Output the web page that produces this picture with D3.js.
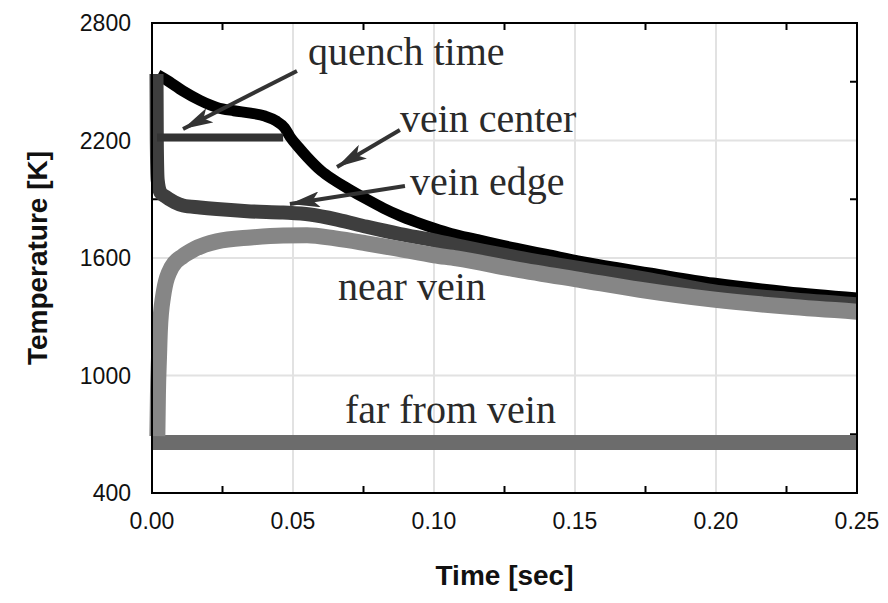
<!DOCTYPE html>
<html><head><meta charset="utf-8">
<script src="https://cdn.jsdelivr.net/npm/d3@7"></script>
<style>
body{margin:0;background:#fff;}
svg{display:block;}
</style></head>
<body>
<script>
// ---- data ----
const xTicks = [0, 0.05, 0.10, 0.15, 0.20, 0.25];
const yTicks = [400, 1000, 1600, 2200, 2800];
const xMinor = [0.025, 0.075, 0.125, 0.175, 0.225];
const yMinor = [700, 1300, 1900, 2500];

const farTime = [0.0, 0.25];
const farTemp = [658, 658];

const nearTime = [0.0019,0.0021,0.0025,0.0028,0.0039,0.007,0.011,0.015,0.023,0.035,0.0465,0.055,0.065,0.076,0.088,0.100,0.108,0.129,0.153,0.173,0.199,0.225,0.25];
const nearTemp = [690,900,1100,1232,1400,1554,1610,1645,1685,1705,1715,1716,1700,1675,1645,1614,1598,1542,1485,1438,1388,1352,1326];

const edgeTime = [0.0016,0.0017,0.0020,0.0030,0.0046,0.008,0.011,0.017,0.023,0.035,0.0465,0.056,0.066,0.076,0.088,0.100,0.108,0.129,0.153,0.177,0.199,0.225,0.25];
const edgeTemp = [2540,2200,2000,1935,1915,1885,1868,1858,1850,1838,1832,1822,1795,1760,1722,1690,1665,1605,1545,1490,1430,1392,1364];

const centerTime = [0.002,0.005,0.011,0.017,0.023,0.029,0.035,0.040,0.044,0.047,0.049,0.052,0.055,0.060,0.064,0.070,0.076,0.082,0.088,0.094,0.100,0.106,0.115,0.129,0.140,0.153,0.165,0.177,0.199,0.225,0.25];
const centerTemp = [2535,2510,2453,2405,2369,2352,2340,2325,2300,2265,2218,2165,2116,2045,2003,1950,1901,1855,1815,1782,1752,1725,1695,1650,1618,1580,1550,1522,1472,1428,1396];

const quenchTime = [0.0018, 0.0465];
const quenchTemp = [2215, 2215];

// annotations: label, text anchor (t,T), arrow from (t,T) to tip (t,T)
const labels = ["quench time","vein center","vein edge","near vein","far from vein"];
const labelT = [0.0553,0.0879,0.0915,0.066,0.0684];
const labelK = [2586,2243,1922,1386,757];
const arrowFromT = [0.0514,0.0879,0.0897];
const arrowFromK = [2555,2254,1968];
const arrowToT = [0.011,0.0656,0.0489];
const arrowToK = [2259,2065,1876];

// ---- chart ----
const W = 888, H = 603;
const m = {left:152, top:23, right:31, bottom:110};
const svg = d3.select("body").append("svg").attr("width",W).attr("height",H);
const x = d3.scaleLinear().domain([0,0.25]).range([m.left, W-m.right]);
const y = d3.scaleLinear().domain([400,2800]).range([H-m.bottom, m.top]);

// grid
const g = svg.append("g");
g.selectAll(".gx").data(xTicks.slice(1,-1)).enter().append("line")
  .attr("x1",d=>x(d)).attr("x2",d=>x(d)).attr("y1",y(400)).attr("y2",y(2800))
  .attr("stroke","#e2e2e2").attr("stroke-width",2);
g.selectAll(".gy").data(yTicks.slice(1,-1)).enter().append("line")
  .attr("y1",d=>y(d)).attr("y2",d=>y(d)).attr("x1",x(0)).attr("x2",x(0.25))
  .attr("stroke","#e2e2e2").attr("stroke-width",2);

// minor ticks (inward) on all sides
const tk = svg.append("g").attr("stroke","#000").attr("stroke-width",2);
xMinor.forEach(d=>{
  tk.append("line").attr("x1",x(d)).attr("x2",x(d)).attr("y1",y(400)).attr("y2",y(400)-7);
  tk.append("line").attr("x1",x(d)).attr("x2",x(d)).attr("y1",y(2800)).attr("y2",y(2800)+7);
});
yMinor.forEach(d=>{
  tk.append("line").attr("y1",y(d)).attr("y2",y(d)).attr("x1",x(0)).attr("x2",x(0)+7);
  tk.append("line").attr("y1",y(d)).attr("y2",y(d)).attr("x1",x(0.25)).attr("x2",x(0.25)-7);
});

// series
const line = d3.line().x(d=>x(d[0])).y(d=>y(d[1])).curve(d3.curveMonotoneX);
const zip = (a,b)=>a.map((v,i)=>[v,b[i]]);
const series = [
  {t:farTime, v:farTemp, c:"#6c6c6c", w:15},
  {t:centerTime, v:centerTemp, c:"#000000", w:11},
  {t:edgeTime, v:edgeTemp, c:"#3e3e3e", w:14},
  {t:nearTime, v:nearTemp, c:"#868686", w:16},
  {t:quenchTime, v:quenchTemp, c:"#333333", w:8}
];
series.forEach(s=>{
  svg.append("path").attr("d",line(zip(s.t,s.v))).attr("fill","none")
    .attr("stroke",s.c).attr("stroke-width",s.w).attr("stroke-linejoin","round");
});

// frame
svg.append("rect").attr("x",x(0)).attr("y",y(2800)).attr("width",x(0.25)-x(0)).attr("height",y(400)-y(2800))
  .attr("fill","none").attr("stroke","#000").attr("stroke-width",2);

// axes labels
const tickFont = "Liberation Sans, Arial, sans-serif";
svg.selectAll(".xl").data(xTicks).enter().append("text")
  .attr("x",d=>x(d)).attr("y",y(400)+36).attr("text-anchor","middle")
  .attr("font-family",tickFont).attr("font-size",23).attr("fill","#111")
  .text(d=>d3.format(".2f")(d));
svg.selectAll(".yl").data(yTicks).enter().append("text")
  .attr("x",x(0)-21).attr("y",d=>y(d)+8).attr("text-anchor","end")
  .attr("font-family",tickFont).attr("font-size",23).attr("fill","#111")
  .text(d=>d);
svg.append("text").attr("x",(x(0)+x(0.25))/2).attr("y",H-18).attr("text-anchor","middle")
  .attr("font-family",tickFont).attr("font-weight","bold").attr("font-size",28).attr("fill","#111")
  .text("Time [sec]");
svg.append("text").attr("transform",`translate(47,${(y(400)+y(2800))/2}) rotate(-90)`)
  .attr("text-anchor","middle").attr("font-family",tickFont).attr("font-weight","bold")
  .attr("font-size",28).attr("fill","#111").text("Temperature [K]");

// annotations
svg.append("defs").append("marker").attr("id","ah").attr("markerUnits","userSpaceOnUse")
  .attr("viewBox","0 0 30 16").attr("refX",30).attr("refY",8).attr("markerWidth",30).attr("markerHeight",16)
  .attr("orient","auto").append("path").attr("d","M0,0 L30,8 L0,16 L7,8 Z").attr("fill","#333");
arrowFromT.forEach((d,i)=>{
  svg.append("line").attr("x1",x(d)).attr("y1",y(arrowFromK[i]))
    .attr("x2",x(arrowToT[i])).attr("y2",y(arrowToK[i]))
    .attr("stroke","#333").attr("stroke-width",4).attr("marker-end","url(#ah)");
});
labels.forEach((s,i)=>{
  svg.append("text").attr("x",x(labelT[i])).attr("y",y(labelK[i]))
    .attr("font-family","Liberation Serif, 'Times New Roman', serif").attr("font-size",40)
    .attr("fill","#2a2a2a").text(s);
});
</script>
</body></html>
